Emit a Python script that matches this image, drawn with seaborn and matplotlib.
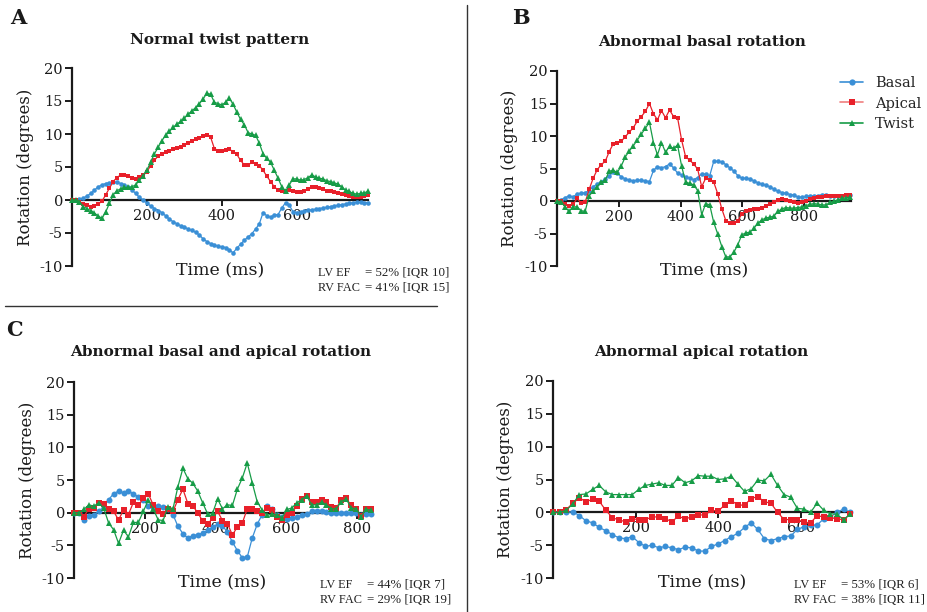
import numpy as np
import pandas as pd
import matplotlib
matplotlib.use("Agg")
import matplotlib.pyplot as plt
from matplotlib.lines import Line2D
import seaborn as sns

sns.set_style("ticks")
plt.rcParams["font.family"] = ["DejaVu Serif"]
plt.rcParams["axes.unicode_minus"] = False

SERIES = ["Basal", "Apical", "Twist"]
COLORS = {"Basal": "#3a8fd6", "Apical": "#e8202a", "Twist": "#179c47"}
MARKERS = {"Basal": "o", "Apical": "s", "Twist": "^"}

# ---------------- Panel A: Normal twist pattern (sample step 10 ms) ----------------
a_step = 10
a_basal = [0, 0, 0.1, 0.3, 0.6, 1.0, 1.5, 2.0, 2.3, 2.5,
           2.6, 2.7, 2.7, 2.5, 2.3, 1.9, 1.5, 1.0, 0.4, 0.0,
           -0.5, -0.9, -1.3, -1.6, -1.9, -2.4, -2.9, -3.3, -3.6, -3.9,
           -4.1, -4.4, -4.6, -4.9, -5.3, -5.9, -6.3, -6.6, -6.8, -7.0,
           -7.1, -7.2, -7.6, -8.0, -7.3, -6.7, -6.1, -5.6, -5.1, -4.4,
           -3.6, -1.9, -2.4, -2.6, -2.3, -2.2, -1.2, -0.4, -0.8, -1.8,
           -1.9, -1.8, -1.7, -1.5, -1.5, -1.4, -1.3, -1.2, -1.1, -1.0,
           -0.9, -0.8, -0.7, -0.6, -0.5, -0.4, -0.35, -0.35, -0.4, -0.4]
a_apical = [0, 0, -0.3, -0.6, -0.8, -1.0, -0.9, -0.6, -0.2, 0.8,
            1.8, 2.8, 3.4, 3.8, 3.8, 3.6, 3.4, 3.2, 3.5, 3.8,
            4.3, 5.2, 6.0, 6.7, 7.0, 7.2, 7.4, 7.7, 7.9, 8.0,
            8.3, 8.7, 9.0, 9.2, 9.4, 9.7, 9.9, 9.5, 7.8, 7.5,
            7.5, 7.6, 7.7, 7.3, 6.9, 6.0, 5.3, 5.3, 5.7, 5.5,
            5.2, 4.5, 3.6, 2.8, 2.0, 1.5, 1.4, 1.4, 1.5, 1.4,
            1.2, 1.2, 1.4, 1.7, 2.0, 1.9, 1.8, 1.6, 1.4, 1.3,
            1.2, 1.0, 0.9, 0.7, 0.6, 0.5, 0.5, 0.5, 0.6, 0.8]
a_twist = [0, 0, -0.3, -1.0, -1.3, -1.6, -2.0, -2.4, -2.8, -1.8,
           -0.5, 0.8, 1.4, 1.7, 1.9, 1.9, 2.0, 2.3, 3.0, 3.6,
           4.5, 5.8, 7.0, 8.0, 9.0, 9.8, 10.4, 11.0, 11.5, 11.9,
           12.4, 13.0, 13.5, 14.0, 14.6, 15.3, 16.2, 16.0, 14.8, 14.6,
           14.4, 14.8, 15.4, 14.5, 13.3, 12.2, 11.4, 10.2, 10.0, 9.8,
           8.6, 7.0, 6.3, 5.7, 4.5, 3.3, 2.0, 1.3, 2.3, 3.2,
           3.2, 3.0, 3.1, 3.4, 3.8, 3.5, 3.3, 3.2, 2.9, 2.8,
           2.6, 2.4, 2.0, 1.5, 1.3, 1.0, 0.9, 1.0, 1.1, 1.3]

# ---------------- Panel B: Abnormal basal rotation (sample step 13 ms) ----------------
b_step = 13
b_basal = [0, 0.2, 0.5, 0.8, 0.6, 1.1, 1.2, 1.3, 1.6, 2.2,
           2.6, 3.0, 3.4, 3.9, 4.4, 4.3, 3.7, 3.4, 3.2, 3.1,
           3.2, 3.2, 3.1, 3.0, 4.7, 5.3, 5.1, 5.3, 5.7, 5.1,
           4.3, 4.0, 3.7, 3.5, 3.3, 3.6, 4.2, 4.1, 3.9, 6.1,
           6.1, 6.0, 5.6, 5.1, 4.6, 3.9, 3.5, 3.5, 3.4, 3.1,
           2.8, 2.6, 2.4, 2.2, 1.8, 1.5, 1.3, 1.2, 1.0, 0.9,
           0.6, 0.6, 0.7, 0.8, 0.8, 0.8, 1.0, 1.0, 0.8, 0.7,
           0.7, 0.8, 0.9, 0.9]
b_apical = [0, 0, -0.4, -0.8, -0.5, 0.4, -0.3, -0.2, 1.8, 3.5,
            4.8, 5.6, 6.1, 7.6, 8.8, 9.0, 9.2, 9.9, 10.6, 11.3,
            12.3, 13.0, 13.8, 15.0, 13.4, 12.5, 13.9, 12.8, 14.0, 13.0,
            12.8, 9.4, 6.8, 6.3, 5.7, 4.9, 2.2, 3.5, 3.3, 2.9,
            1.1, -1.2, -3.0, -3.4, -3.4, -3.0, -2.0, -1.5, -1.4, -1.3,
            -1.2, -1.0, -0.7, -0.4, -0.1, 0.2, 0.3, 0.2, 0.0, -0.2,
            -0.3, -0.2, 0.0, 0.3, 0.5, 0.6, 0.6, 0.7, 0.7, 0.7,
            0.8, 0.8, 0.9, 1.0]
b_twist = [0, -0.1, -0.9, -1.6, -0.9, -0.9, -1.5, -1.6, 0.8, 1.5,
           2.2, 2.9, 3.2, 4.6, 4.7, 4.4, 5.4, 6.8, 7.7, 8.5,
           9.4, 10.3, 11.2, 12.1, 9.0, 7.1, 9.0, 7.5, 8.4, 8.1,
           8.6, 5.4, 2.9, 2.7, 2.5, 1.6, -2.1, -0.4, -0.6, -3.3,
           -5.1, -7.0, -8.6, -8.6, -7.9, -6.7, -5.2, -4.9, -4.8, -4.2,
           -3.4, -2.9, -2.6, -2.5, -2.3, -1.6, -1.2, -1.0, -1.1, -1.1,
           -1.0, -0.9, -0.7, -0.5, -0.4, -0.5, -0.6, -0.6, -0.2, 0.0,
           0.2, 0.4, 0.5, 0.6]

# ---------------- Panel C: Abnormal basal and apical rotation (step 14 ms) ----------------
c_step = 14
c_basal = [0, 0, -1.1, -0.5, -0.3, 0.2, 0.9, 2.0, 2.9, 3.3,
           3.0, 3.3, 2.9, 2.4, 2.0, 1.0, 0.9, 1.0, 0.9, 0.6,
           -0.3, -2.1, -3.2, -3.9, -3.5, -3.4, -3.1, -2.7, -2.2, -1.8,
           -2.0, -3.0, -4.5, -5.8, -6.9, -6.8, -3.9, -1.8, -0.3, 1.0,
           0.5, -0.3, -0.7, -0.9, -0.8, -0.7, -0.4, -0.2, 0.2, 0.3,
           0.3, 0.1, 0, 0, 0, 0, 0, -0.1, -0.3, -0.2,
           -0.2]
c_apical = [0, 0, -0.6, 0.6, 0.7, 1.5, 1.3, 0.5, 0.2, -1.1,
            0.4, -0.3, 1.6, 1.1, 2.2, 2.9, 1.2, 0.3, -0.2, 0.5,
            0.2, 2.0, 3.6, 1.4, 1.0, 0.0, -1.3, -1.8, -0.8, 0.2,
            -1.2, -1.7, -3.4, -2.2, -1.6, 0.6, 0.6, 0.2, 0.0, 0.7,
            0.4, -0.6, -1.1, -0.3, 0.0, 1.0, 2.1, 2.6, 1.6, 1.6,
            1.9, 1.6, 0.9, 0.7, 2.0, 2.2, 1.1, 0.5, -0.5, 0.6,
            0.6]
c_twist = [0, 0, 0.5, 1.2, 1.0, 1.5, 0.7, -1.6, -2.6, -4.7,
           -2.7, -3.7, -1.5, -1.5, 0.2, 1.9, 0.6, -1.1, -1.2, 0.9,
           0.6, 4.0, 6.8, 5.2, 4.5, 3.3, 1.5, -0.2, -0.1, 2.1,
           0.6, 1.2, 1.1, 3.6, 5.3, 7.6, 4.6, 1.7, 0.4, -0.4,
           -0.2, -0.3, -0.8, 0.5, 0.7, 1.5, 2.0, 2.6, 1.2, 1.2,
           1.6, 1.2, 0.6, 0.6, 1.7, 2.1, 0.7, 0.6, -0.6, 0.5,
           0.4]

# ---------------- Panel D: Abnormal apical rotation (step 16 ms) ----------------
d_step = 16
d_basal = [0, 0, 0, 0.1, -0.5, -1.3, -1.6, -2.3, -2.8, -3.4,
           -3.9, -4.0, -3.7, -4.6, -5.2, -5.0, -5.4, -5.2, -5.4, -5.7,
           -5.3, -5.4, -5.9, -5.9, -5.2, -4.8, -4.3, -3.7, -3.2, -2.3,
           -1.6, -2.6, -4.0, -4.3, -4.0, -3.7, -3.6, -2.6, -2.2, -2.0,
           -1.9, -1.0, -0.7, 0.0, 0.5, 0.0]
d_apical = [0, 0, 0.4, 1.4, 2.2, 1.6, 2.0, 1.7, 0.3, -0.8,
            -1.2, -1.4, -1.0, -1.1, -1.1, -0.7, -0.7, -1.0, -1.4, -0.6,
            -1.0, -0.7, -0.4, -0.4, 0.3, 0.2, 1.1, 1.8, 1.1, 1.1,
            2.1, 2.4, 1.6, 1.4, 0.0, -1.1, -1.1, -1.1, -1.5, -1.6,
            -0.5, -0.7, -0.8, -1.0, -1.1, -0.3]
d_twist = [0, 0, 0.3, 1.3, 2.7, 2.8, 3.5, 4.1, 3.1, 2.7,
           2.7, 2.7, 2.7, 3.5, 4.1, 4.3, 4.5, 4.1, 4.1, 5.3,
           4.5, 4.8, 5.6, 5.5, 5.5, 5.0, 5.1, 5.5, 4.3, 3.2,
           3.6, 4.9, 4.8, 5.8, 4.1, 2.7, 2.3, 0.6, 0.5, 0.0,
           1.4, 0.3, -0.2, -0.3, -1.1, -0.3]

titles = ["Normal twist pattern", "Abnormal basal rotation",
          "Abnormal basal and apical rotation", "Abnormal apical rotation"]
letters = ["A", "B", "C", ""]
xlims = [790, 951, 840, 722]
xticks = [[200, 400, 600], [200, 400, 600, 800], [200, 400, 600, 800], [200, 400, 600]]
annot_left = [["LV EF", "RV FAC"], None, ["LV EF", "RV FAC"], ["LV EF", "RV FAC"]]
annot_right = [["= 52% [IQR 10]", "= 41% [IQR 15]"], None,
               ["= 44% [IQR 7]", "= 29% [IQR 19]"], ["= 53% [IQR 6]", "= 38% [IQR 11]"]]


def make_df(step, basal, apical, twist):
    frames = []
    for name, vals in zip(SERIES, [basal, apical, twist]):
        frames.append(pd.DataFrame({"t": np.arange(len(vals)) * step,
                                    "v": vals, "series": name}))
    return pd.concat(frames, ignore_index=True)


dfs = [make_df(a_step, a_basal, a_apical, a_twist),
       make_df(b_step, b_basal, b_apical, b_twist),
       make_df(c_step, c_basal, c_apical, c_twist),
       make_df(d_step, d_basal, d_apical, d_twist)]

W, H = 928, 612
fig = plt.figure(figsize=(W / 100, H / 100), dpi=100)

# axes boxes in pixels: (left, top, right, bottom)
boxes = [(72, 68, 368, 266), (557, 71, 851, 266), (74, 382, 371, 578), (553, 381, 851, 578)]
msizes = [3.3, 3.3, 4.3, 4.3]

for i, (l, t, r, b) in enumerate(boxes):
    ax = fig.add_axes([l / W, 1 - b / H, (r - l) / W, (b - t) / H])
    df = dfs[i]
    for s in SERIES:
        sub = df[df["series"] == s]
        ms = msizes[i] * (1.15 if s == "Twist" else 1.0)
        sns.lineplot(data=sub, x="t", y="v", color=COLORS[s], marker=MARKERS[s],
                     markersize=ms, markeredgewidth=0, linewidth=0.9,
                     ax=ax, legend=False, clip_on=False, zorder=3)
    ax.set_xlim(0, xlims[i])
    ax.set_ylim(-10, 20)
    ax.set_yticks([-10, -5, 0, 5, 10, 15, 20])
    ax.set_xticks(xticks[i])
    ax.spines["top"].set_visible(False)
    ax.spines["right"].set_visible(False)
    ax.spines["bottom"].set_position(("data", 0))
    for sp in ["left", "bottom"]:
        ax.spines[sp].set_linewidth(1.6)
        ax.spines[sp].set_color("#1a1a1a")
        ax.spines[sp].set_zorder(2)
    ax.tick_params(axis="y", direction="out", length=5, width=1.4, pad=1.5,
                   labelsize=10.5, colors="#1a1a1a")
    ax.tick_params(axis="x", direction="out", length=4.5, width=1.4, pad=2,
                   labelsize=10.5, colors="#1a1a1a")
    ax.set_xlabel("")
    ax.set_ylabel("")
    ax.patch.set_alpha(0)
    wpx = r - l
    hpx = b - t
    ax.text(0.5, -5 / hpx, "Time (ms)", transform=ax.transAxes, ha="center",
            va="center", fontsize=12.5, color="#1a1a1a")
    ax.text(-47 / wpx, 0.5, "Rotation (degrees)", transform=ax.transAxes,
            ha="center", va="center", rotation=90, fontsize=12, color="#1a1a1a")

    # annotations
    if annot_left[i] is not None:
        ax_x = l + 246 if i != 3 else l + 241
        eq_x = ax_x + 47
        for j in range(2):
            yy = b + 7 + 15 * j
            fig.text(ax_x / W, 1 - yy / H, annot_left[i][j], ha="left", va="center",
                     fontsize=8.8, family=["Liberation Serif"], color="#222222")
            fig.text(eq_x / W, 1 - yy / H, annot_right[i][j], ha="left", va="center",
                     fontsize=9.3, family=["Liberation Serif"], color="#222222")

# titles and letters
title_pos = [(220, 40), (702, 42), (221, 352), (701, 352)]
for i, (x, y) in enumerate(title_pos):
    fig.text(x / W, 1 - y / H, titles[i], ha="center", va="center",
             fontsize=11, fontweight="bold", color="#1a1a1a")
letter_pos = [(18, 18), (521, 18), (14, 330)]
for i, (x, y) in enumerate(letter_pos):
    fig.text(x / W, 1 - y / H, letters[i], ha="center", va="center",
             fontsize=15, fontweight="bold", color="#1a1a1a")

# divider lines
fig.add_artist(Line2D([467 / W, 467 / W], [1 - 5 / H, 0], color="#333333", lw=1.0))
fig.add_artist(Line2D([5 / W, 437 / W], [1 - 306 / H, 1 - 306 / H], color="#333333", lw=1.0))

# legend for panel B
handles = [Line2D([0], [0], color=COLORS[s], marker=MARKERS[s], markersize=4.5,
                  markeredgewidth=0, lw=1.2) for s in SERIES]
handles[1].set_color("#f07f7f")
handles[1].set_markerfacecolor(COLORS["Apical"])
fig.legend(handles, SERIES, loc="upper left", bbox_to_anchor=(840 / W, 1 - 76 / H),
           frameon=False, fontsize=10.5, handlelength=1.6, handletextpad=0.8,
           labelspacing=0.45, borderpad=0, borderaxespad=0)

fig.savefig("out.png", dpi=100)
